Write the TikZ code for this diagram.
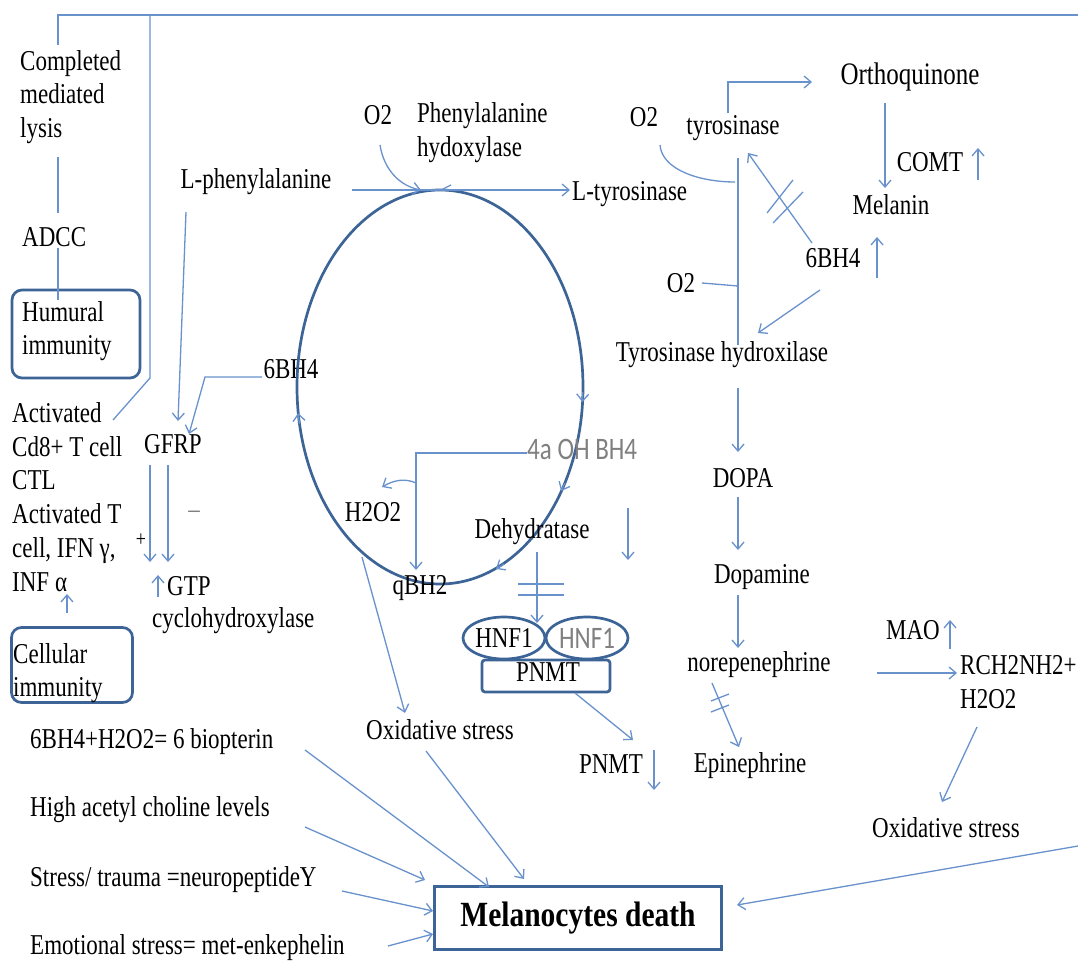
\documentclass[tikz,border=0pt]{standalone}
\usepackage{fontspec}
\setmainfont{Liberation Serif}
\newfontfamily\grayfont{Carlito}
\usetikzlibrary{arrows.meta,shapes.geometric}
\definecolor{cblue}{RGB}{105,146,204}
\definecolor{dblue}{RGB}{60,100,150}
\definecolor{tgray}{RGB}{128,128,128}
\begin{document}
\begin{tikzpicture}[x=1pt,y=-1pt,
  txt/.style={font=\fontsize{23}{27}\selectfont, inner sep=0pt, yscale=1.25, align=left, text=black},
  gtxt/.style={txt, font=\grayfont\fontsize{25}{27}\selectfont, text=tgray},
  conn/.style={draw=cblue, line width=1.3pt},
  arr/.style={conn, -{Straight Barb[length=7pt,width=12pt]}},
  boxd/.style={draw=dblue, line width=2.7pt},
]
\useasboundingbox[fill=white] (0,0) rectangle (1078,963);

% ---------- left column ----------
\node[txt, anchor=west] (cml) at (20,97) {Completed\\mediated\\lysis};
\node[txt, anchor=west] (adcc) at (22,237) {ADCC};
\node[boxd, rounded corners=10pt, minimum width=128pt, minimum height=88pt] (humbox) at (76,334) {};
\node[txt, anchor=west] (hum) at (22,331) {Humural\\immunity};
\node[txt, anchor=west] (act) at (12,497) {Activated\\Cd8+ T cell\\CTL\\Activated T\\cell, IFN γ,\\INF α};
\node[boxd, rounded corners=10pt, minimum width=121pt, minimum height=75pt] (celbox) at (72,665) {};
\node[txt, anchor=west] (cel) at (13,673) {Cellular\\immunity};

\draw[conn] (58,45) -- (58,15) -- (1078,15);
\draw[conn] (150,15) -- (150,378) -- (113,420);
\draw[conn] (58,157) -- (58,213);
\draw[conn] (58,248) -- (58,300);
\draw[arr] (67,613) -- (67,594);

% ---------- GFRP region ----------
\node[txt] (lphe) at (256,182) {L-phenylalanine};
\node[txt] (gfrp) at (173,444) {GFRP};
\node[txt] (bh4a) at (291,369) {6BH4};
\node[txt, font=\fontsize{18}{20}\selectfont] (plus) at (141,540) {+};
\node[txt, text=tgray] (minus) at (194,515) {--};
\node[txt, anchor=west] (gtp) at (167,586) {GTP};
\node[txt, anchor=west] (cyc) at (152,621) {cyclohydroxylase};

\draw[arr] (186,212) -- (178,421);
\draw[arr] (262,377) -- (205,377) -- (189,434);
\draw[arr] (150,465) -- (150,562);
\draw[arr] (168,465) -- (168,562);
\draw[arr] (158,597) -- (158,575);

% ---------- cycle ----------
\node[boxd, ellipse, minimum width=286pt, minimum height=394pt, inner sep=0pt] (cycl) at (440,387) {};
\draw[arr] (582.8,392) -- (582.4,402);
\draw[arr] (565,483) -- (561,491);
\draw[arr] (504,564) -- (496,569);
\draw[arr] (299.4,424) -- (298.2,413);
\draw[conn] (443,189) -- (451,185);

\node[txt] (o2a) at (378,115) {O2};
\node[txt, anchor=west] (phx) at (417,133) {Phenylalanine\\hydoxylase};
\node[txt, anchor=west] (ltyr) at (572,194) {L-tyrosinase};
\draw[arr] (352,190) -- (570,190);
\draw[arr] (380,145) .. controls (384,170) and (400,186) .. (421,190);

\node[gtxt, anchor=west] (ohbh) at (527,449) {4a OH BH4};
\node[txt] (h2o2) at (373,512) {H2O2};
\node[txt] (qbh2) at (420,588) {qBH2};
\node[txt] (dehy) at (532,532) {Dehydratase};
\draw[arr] (527,453) -- (416,453) -- (416,570);
\draw[arr] (416,483) .. controls (405,478) and (394,480) .. (382,487);
\draw[arr] (628,508) -- (628,560);
\draw[arr] (537,552) -- (537,623);
\draw[conn] (518,584) -- (564,584);
\draw[conn] (518,595) -- (564,595);

\node[boxd, rounded corners=3pt, minimum width=128pt, minimum height=32pt] (pnmtbox) at (546,676) {};
\node[txt] (pnmt1) at (548,672) {PNMT};
\node[boxd, ellipse, txt, minimum width=82pt, minimum height=33.6pt] (hnfa) at (504,638) {HNF1};
\node[boxd, ellipse, gtxt, minimum width=82pt, minimum height=33.6pt] (hnfb) at (587,638) {HNF1};
\node[txt] (pnmt2) at (611,764) {PNMT};
\draw[arr] (575,693) -- (633,740);
\draw[arr] (654,750) -- (654,790);

\node[txt] (ox1) at (440,730) {Oxidative stress};
\draw[arr] (362,557) -- (405,713);

% ---------- right part ----------
\node[txt] (o2b) at (644,117) {O2};
\node[txt] (tyr) at (733,128) {tyrosinase};
\node[txt, font=\fontsize{25}{27}\selectfont] (orth) at (910,77) {Orthoquinone};
\node[txt] (comt) at (930,162) {COMT};
\node[txt] (mel) at (891,205) {Melanin};
\node[txt] (bh4b) at (833,258) {6BH4};
\node[txt] (o2c) at (681,283) {O2};
\node[txt] (tyh) at (722,355) {Tyrosinase hydroxilase};
\node[txt] (dopa) at (743,478) {DOPA};
\node[txt] (dopm) at (762,577) {Dopamine};
\node[txt] (nor) at (759,665) {norepenephrine};
\node[txt] (epi) at (750,766) {Epinephrine};
\node[txt] (mao) at (913,630) {MAO};
\node[txt, anchor=west] (rch) at (960,682) {RCH2NH2+\\H2O2};
\node[txt] (ox2) at (946,828) {Oxidative stress};

\draw[conn] (660,145) .. controls (662,170) and (700,182) .. (735,182);
\draw[arr] (728,113) -- (728,82) -- (812,82);
\draw[conn] (738,158) -- (738,345);
\draw[conn] (702,283) -- (738,286);
\draw[arr] (885,103) -- (885,188);
\draw[arr] (978,180) -- (978,148);
\draw[arr] (877,278) -- (877,237);
\draw[arr] (812,243) -- (748,153);
\draw[conn] (767,213) -- (793,180);
\draw[conn] (773,223) -- (803,192);
\draw[arr] (820,290) -- (758,333);
\draw[arr] (738,388) -- (738,452);
\draw[arr] (738,497) -- (738,550);
\draw[arr] (738,595) -- (738,648);
\draw[arr] (712,683) -- (739,747);
\draw[conn] (711,701) -- (729,694);
\draw[conn] (711,712) -- (729,705);
\draw[arr] (877,673) -- (957,673);
\draw[arr] (950,649) -- (950,620);
\draw[arr] (977,727) -- (942,802);

% ---------- bottom ----------
\node[txt, anchor=west] (b1) at (30,742) {6BH4+H2O2= 6 biopterin};
\node[txt, anchor=west] (b2) at (30,810) {High acetyl  choline levels};
\node[txt, anchor=west] (b3) at (30,880) {Stress/ trauma =neuropeptideY};
\node[txt, anchor=west] (b4) at (30,948) {Emotional stress= met-enkephelin};
\node[boxd, minimum width=287pt, minimum height=52.5pt, yscale=1.2, font=\bfseries\fontsize{29.5}{31}\selectfont] (death) at (578,918) {Melanocytes death};

\draw[arr] (305,750) -- (489,887);
\draw[arr] (305,827) -- (425,880);
\draw[arr] (342,891) -- (433,911);
\draw[arr] (388,946) -- (433,934);
\draw[arr] (426,751) -- (524,879);
\draw[arr] (1078,846) -- (737,905);
\end{tikzpicture}
\end{document}
